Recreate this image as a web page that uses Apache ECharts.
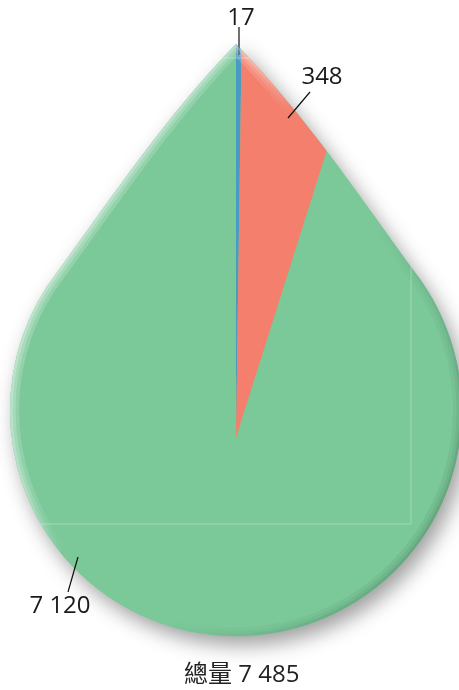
<!DOCTYPE html>
<html>
<head>
<meta charset="utf-8">
<script src="https://cdn.jsdelivr.net/npm/echarts@6/dist/echarts.min.js"></script>
<style>
  html, body { margin: 0; padding: 0; background: #fff; }
  #chart { width: 459px; height: 690px; }
</style>
</head>
<body>
<div id="chart"></div>
<script>
var values = [17, 348, 7120];
var colors = ['#4a9bc3', '#f37f6c', '#7bc899'];
var totalName = '總量';

// where each value label sits and its leader line (px)
var labelPos = [[241, 18], [322, 77], [60, 606]];
var labelLines = [
  [[239, 27], [239, 55]],
  [[310, 92], [288, 118]],
  [[68, 592], [78, 557]]
];

var total = values.reduce(function (a, b) { return a + b; }, 0);

function fmt(v) {
  return String(v).replace(/\B(?=(\d{3})+(?!\d))/g, ' ');
}

// [radius, start, end] for the polar custom series
var sliceData = [];
var acc = 0;
for (var i = 0; i < values.length; i++) {
  sliceData.push([1, acc, acc + values[i]]);
  acc += values[i];
}

// teardrop outline
var DROP = 'M236 44 C306 116 357 193 414 271 A226 226 0 1 1 58 271 C115 193 166 116 236 44 Z';
var FONT = "'Open Sans', 'Noto Sans CJK TC', sans-serif";

function dropClip() {
  return { type: 'path', shape: { pathData: DROP } };
}

function renderBase() {
  return {
    type: 'path',
    shape: { pathData: DROP },
    style: {
      fill: colors[2],
      shadowBlur: 20,
      shadowOffsetX: 6,
      shadowOffsetY: 9,
      shadowColor: 'rgba(0,0,0,0.38)'
    }
  };
}

function renderSlice(params, api) {
  var cs = params.coordSys;
  var i = params.dataIndex;
  var p0 = api.coord([api.value(0), api.value(1)]);
  var p1 = api.coord([api.value(0), api.value(2)]);
  var a0 = Math.atan2(p0[1] - cs.cy, p0[0] - cs.cx);
  var a1 = Math.atan2(p1[1] - cs.cy, p1[0] - cs.cx);
  if (a1 <= a0) a1 += Math.PI * 2;
  var ln = labelLines[i];
  return {
    type: 'group',
    children: [{
      type: 'sector',
      shape: { cx: cs.cx, cy: cs.cy, r: cs.r, r0: 0, startAngle: a0, endAngle: a1, clockwise: true },
      style: { fill: colors[i] },
      clipPath: dropClip()
    }, {
      type: 'line',
      z2: 10,
      shape: { x1: ln[0][0], y1: ln[0][1], x2: ln[1][0], y2: ln[1][1] },
      style: { stroke: '#111', lineWidth: 1.2 }
    }, {
      type: 'text',
      z2: 10,
      x: labelPos[i][0],
      y: labelPos[i][1],
      style: {
        text: fmt(values[i]),
        fill: '#1a1a1a',
        fontSize: 24,
        fontFamily: FONT,
        align: 'center',
        verticalAlign: 'middle'
      }
    }]
  };
}

function rimGrad(w, d) {
  return new echarts.graphic.LinearGradient(0, 0.35, 1, 0.75, [
    { offset: 0, color: 'rgba(255,255,255,' + w + ')' },
    { offset: 0.25, color: 'rgba(255,255,255,' + (w * 0.7) + ')' },
    { offset: 0.37, color: 'rgba(255,255,255,0)' },
    { offset: 0.6, color: 'rgba(0,0,0,0)' },
    { offset: 1, color: 'rgba(0,0,0,' + d + ')' }
  ]);
}

function renderRim() {
  var layers = [[18, 0.22, 0.06], [11, 0.22, 0.06], [5, 0.28, 0.08]];
  var kids = layers.map(function (l) {
    return {
      type: 'path',
      shape: { pathData: DROP },
      style: { fill: 'none', stroke: rimGrad(l[1], l[2]), lineWidth: l[0] },
      clipPath: dropClip()
    };
  });
  // faint seam lines visible in the original
  kids.push({
    type: 'polyline',
    shape: { points: [[40, 58], [411, 58], [411, 524], [40, 524]] },
    style: { fill: 'none', stroke: 'rgba(255,255,255,0.3)', lineWidth: 1 },
    clipPath: dropClip()
  });
  return { type: 'group', children: kids };
}

var myChart = echarts.init(document.getElementById('chart'));

var option = {
  animation: false,
  title: {
    text: totalName + ' ' + fmt(total),
    left: 184,
    top: 663,
    padding: 0,
    textStyle: { fontFamily: FONT, fontSize: 24, fontWeight: 'normal', color: '#222' }
  },
  polar: { center: [236, 438], radius: 420 },
  angleAxis: { type: 'value', min: 0, max: total, startAngle: 90, clockwise: true, show: false },
  radiusAxis: { type: 'value', min: 0, max: 1, show: false },
  series: [{
    type: 'custom',
    coordinateSystem: 'none',
    silent: true,
    z: 1,
    data: [0],
    renderItem: renderBase
  }, {
    type: 'custom',
    coordinateSystem: 'polar',
    z: 2,
    data: sliceData,
    renderItem: renderSlice
  }, {
    type: 'custom',
    coordinateSystem: 'none',
    silent: true,
    z: 3,
    data: [0],
    renderItem: renderRim
  }]
};

myChart.setOption(option);
</script>
</body>
</html>
